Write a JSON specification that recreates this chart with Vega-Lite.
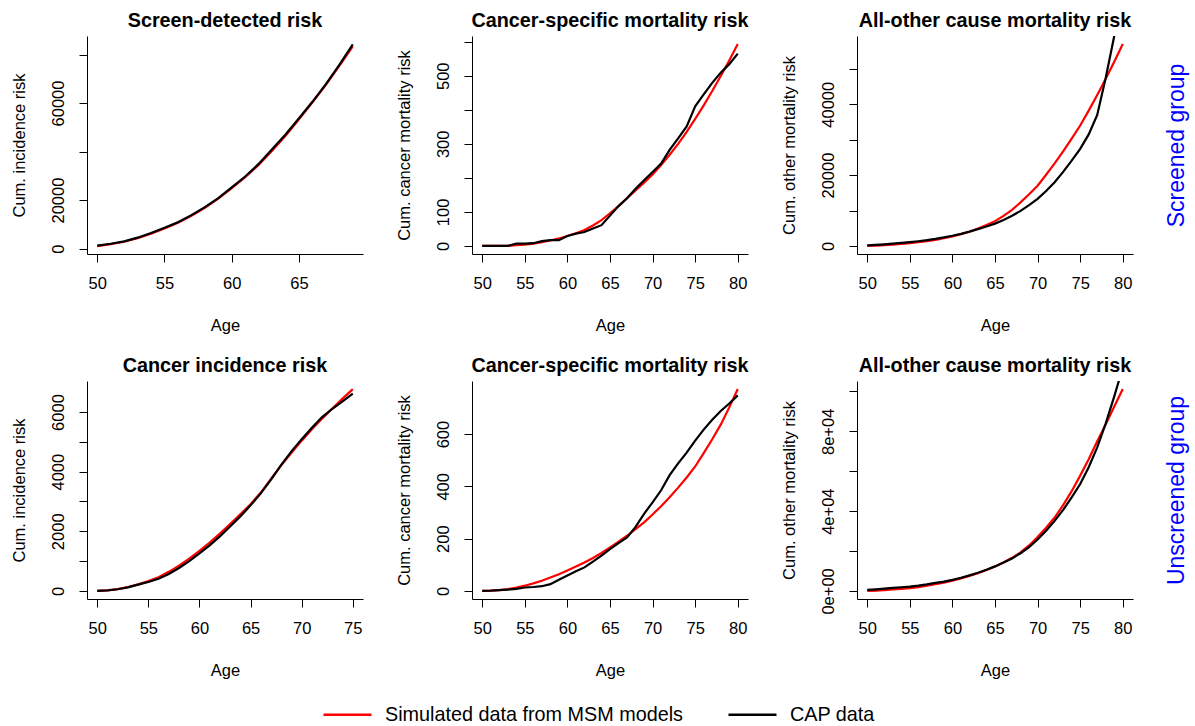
{
"$schema": "https://vega.github.io/schema/vega-lite/v6.json",
"padding": {"left": 10, "top": 11, "right": 5, "bottom": 5},
"background": "white",
"config": {
  "view": {"stroke": null},
  "font": "Liberation Sans",
  "axis": {"grid": false, "domainColor": "#000000", "tickColor": "#000000", "labelColor": "#000000", "titleColor": "#000000", "labelFont": "Liberation Sans", "titleFont": "Liberation Sans", "labelFontSize": 16.5, "titleFontSize": 16.5, "titleFontWeight": "normal", "tickSize": 8, "domainWidth": 1, "tickWidth": 1},
  "axisX": {"labelPadding": 13, "titlePadding": 26},
  "axisY": {"labelAngle": 270, "labelAlign": "center", "labelBaseline": "bottom", "labelPadding": 13, "titleAngle": 270, "titleBaseline": "bottom", "titlePadding": 23},
  "title": {"font": "Liberation Sans", "fontSize": 19.8, "fontWeight": "bold", "color": "#000000", "anchor": "middle", "frame": "group", "baseline": "alphabetic", "offset": 5},
  "legend": {"labelLimit": 1000}
},
"data": {"values": [
{"p":1,"age":50,"sim":1000,"cap":1250},{"p":1,"age":51,"sim":1800,"cap":2000},{"p":1,"age":52,"sim":2800,"cap":3000},{"p":1,"age":53,"sim":4300,"cap":4500},{"p":1,"age":54,"sim":6100,"cap":6400},{"p":1,"age":55,"sim":8300,"cap":8600},{"p":1,"age":56,"sim":10700,"cap":10900},{"p":1,"age":57,"sim":13500,"cap":13800},{"p":1,"age":58,"sim":16800,"cap":17100},{"p":1,"age":59,"sim":20600,"cap":20800},{"p":1,"age":60,"sim":24900,"cap":25200},{"p":1,"age":61,"sim":29400,"cap":29700},{"p":1,"age":62,"sim":34500,"cap":34900},{"p":1,"age":63,"sim":40300,"cap":40900},{"p":1,"age":64,"sim":46500,"cap":47000},{"p":1,"age":65,"sim":53300,"cap":53700},{"p":1,"age":66,"sim":60300,"cap":60500},{"p":1,"age":67,"sim":67500,"cap":67800},{"p":1,"age":68,"sim":75300,"cap":75700},{"p":1,"age":69,"sim":83400,"cap":84200},
{"p":2,"age":50,"sim":0,"cap":0},{"p":2,"age":51,"sim":0,"cap":0},{"p":2,"age":52,"sim":0,"cap":0},{"p":2,"age":53,"sim":0,"cap":0},{"p":2,"age":54,"sim":2,"cap":7},{"p":2,"age":55,"sim":4,"cap":7},{"p":2,"age":56,"sim":7,"cap":8},{"p":2,"age":57,"sim":11,"cap":14},{"p":2,"age":58,"sim":16,"cap":17},{"p":2,"age":59,"sim":22,"cap":17},{"p":2,"age":60,"sim":29,"cap":29},{"p":2,"age":61,"sim":37,"cap":36},{"p":2,"age":62,"sim":47,"cap":41},{"p":2,"age":63,"sim":60,"cap":51},{"p":2,"age":64,"sim":76,"cap":61},{"p":2,"age":65,"sim":96,"cap":89},{"p":2,"age":66,"sim":117,"cap":117},{"p":2,"age":67,"sim":140,"cap":140},{"p":2,"age":68,"sim":163,"cap":168},{"p":2,"age":69,"sim":186,"cap":193},{"p":2,"age":70,"sim":210,"cap":217},{"p":2,"age":71,"sim":238,"cap":242},{"p":2,"age":72,"sim":268,"cap":282},{"p":2,"age":73,"sim":300,"cap":316},{"p":2,"age":74,"sim":335,"cap":351},{"p":2,"age":75,"sim":373,"cap":410},{"p":2,"age":76,"sim":413,"cap":445},{"p":2,"age":77,"sim":455,"cap":479},{"p":2,"age":78,"sim":499,"cap":509},{"p":2,"age":79,"sim":545,"cap":534},{"p":2,"age":80,"sim":593,"cap":565},
{"p":3,"age":50,"sim":0,"cap":150},{"p":3,"age":51,"sim":80,"cap":300},{"p":3,"age":52,"sim":200,"cap":460},{"p":3,"age":53,"sim":350,"cap":640},{"p":3,"age":54,"sim":540,"cap":840},{"p":3,"age":55,"sim":770,"cap":1060},{"p":3,"age":56,"sim":1040,"cap":1320},{"p":3,"age":57,"sim":1360,"cap":1620},{"p":3,"age":58,"sim":1730,"cap":1980},{"p":3,"age":59,"sim":2180,"cap":2400},{"p":3,"age":60,"sim":2700,"cap":2880},{"p":3,"age":61,"sim":3300,"cap":3420},{"p":3,"age":62,"sim":4000,"cap":4050},{"p":3,"age":63,"sim":4900,"cap":4750},{"p":3,"age":64,"sim":5900,"cap":5500},{"p":3,"age":65,"sim":7000,"cap":6300},{"p":3,"age":66,"sim":8500,"cap":7300},{"p":3,"age":67,"sim":10200,"cap":8500},{"p":3,"age":68,"sim":12300,"cap":9900},{"p":3,"age":69,"sim":14600,"cap":11500},{"p":3,"age":70,"sim":17000,"cap":13300},{"p":3,"age":71,"sim":20100,"cap":15500},{"p":3,"age":72,"sim":23300,"cap":18000},{"p":3,"age":73,"sim":26700,"cap":20900},{"p":3,"age":74,"sim":30300,"cap":24100},{"p":3,"age":75,"sim":34000,"cap":27400},{"p":3,"age":76,"sim":38200,"cap":31500},{"p":3,"age":77,"sim":42600,"cap":37000},{"p":3,"age":78,"sim":47200,"cap":47500},{"p":3,"age":79,"sim":52000,"cap":59300},{"p":3,"age":80,"sim":57000,"cap":73000},
{"p":4,"age":50,"sim":0,"cap":0},{"p":4,"age":51,"sim":20,"cap":20},{"p":4,"age":52,"sim":60,"cap":55},{"p":4,"age":53,"sim":130,"cap":120},{"p":4,"age":54,"sim":220,"cap":210},{"p":4,"age":55,"sim":330,"cap":300},{"p":4,"age":56,"sim":460,"cap":410},{"p":4,"age":57,"sim":640,"cap":570},{"p":4,"age":58,"sim":850,"cap":770},{"p":4,"age":59,"sim":1080,"cap":1000},{"p":4,"age":60,"sim":1340,"cap":1260},{"p":4,"age":61,"sim":1620,"cap":1530},{"p":4,"age":62,"sim":1920,"cap":1830},{"p":4,"age":63,"sim":2240,"cap":2160},{"p":4,"age":64,"sim":2570,"cap":2500},{"p":4,"age":65,"sim":2910,"cap":2870},{"p":4,"age":66,"sim":3300,"cap":3270},{"p":4,"age":67,"sim":3760,"cap":3730},{"p":4,"age":68,"sim":4210,"cap":4230},{"p":4,"age":69,"sim":4630,"cap":4680},{"p":4,"age":70,"sim":5040,"cap":5090},{"p":4,"age":71,"sim":5420,"cap":5470},{"p":4,"age":72,"sim":5780,"cap":5830},{"p":4,"age":73,"sim":6120,"cap":6110},{"p":4,"age":74,"sim":6450,"cap":6360},{"p":4,"age":75,"sim":6770,"cap":6615},
{"p":5,"age":50,"sim":0,"cap":0},{"p":5,"age":51,"sim":1,"cap":1},{"p":5,"age":52,"sim":3,"cap":3},{"p":5,"age":53,"sim":7,"cap":5},{"p":5,"age":54,"sim":13,"cap":8},{"p":5,"age":55,"sim":20,"cap":13},{"p":5,"age":56,"sim":29,"cap":15},{"p":5,"age":57,"sim":39,"cap":18},{"p":5,"age":58,"sim":51,"cap":26},{"p":5,"age":59,"sim":64,"cap":43},{"p":5,"age":60,"sim":78,"cap":59},{"p":5,"age":61,"sim":93,"cap":75},{"p":5,"age":62,"sim":109,"cap":90},{"p":5,"age":63,"sim":126,"cap":112},{"p":5,"age":64,"sim":145,"cap":135},{"p":5,"age":65,"sim":166,"cap":160},{"p":5,"age":66,"sim":188,"cap":183},{"p":5,"age":67,"sim":211,"cap":205},{"p":5,"age":68,"sim":236,"cap":245},{"p":5,"age":69,"sim":262,"cap":295},{"p":5,"age":70,"sim":292,"cap":339},{"p":5,"age":71,"sim":324,"cap":385},{"p":5,"age":72,"sim":358,"cap":443},{"p":5,"age":73,"sim":395,"cap":488},{"p":5,"age":74,"sim":434,"cap":529},{"p":5,"age":75,"sim":476,"cap":575},{"p":5,"age":76,"sim":527,"cap":617},{"p":5,"age":77,"sim":580,"cap":655},{"p":5,"age":78,"sim":636,"cap":688},{"p":5,"age":79,"sim":702,"cap":717},{"p":5,"age":80,"sim":772,"cap":748},
{"p":6,"age":50,"sim":0,"cap":500},{"p":6,"age":51,"sim":200,"cap":800},{"p":6,"age":52,"sim":450,"cap":1150},{"p":6,"age":53,"sim":750,"cap":1500},{"p":6,"age":54,"sim":1050,"cap":1850},{"p":6,"age":55,"sim":1400,"cap":2200},{"p":6,"age":56,"sim":1900,"cap":2700},{"p":6,"age":57,"sim":2600,"cap":3300},{"p":6,"age":58,"sim":3400,"cap":4000},{"p":6,"age":59,"sim":4200,"cap":4700},{"p":6,"age":60,"sim":5100,"cap":5560},{"p":6,"age":61,"sim":6200,"cap":6600},{"p":6,"age":62,"sim":7500,"cap":7800},{"p":6,"age":63,"sim":8900,"cap":9100},{"p":6,"age":64,"sim":10500,"cap":10600},{"p":6,"age":65,"sim":12300,"cap":12300},{"p":6,"age":66,"sim":14300,"cap":14200},{"p":6,"age":67,"sim":16600,"cap":16300},{"p":6,"age":68,"sim":19300,"cap":18900},{"p":6,"age":69,"sim":22800,"cap":22000},{"p":6,"age":70,"sim":27000,"cap":25800},{"p":6,"age":71,"sim":31700,"cap":30200},{"p":6,"age":72,"sim":36800,"cap":35100},{"p":6,"age":73,"sim":43000,"cap":40600},{"p":6,"age":74,"sim":50000,"cap":46900},{"p":6,"age":75,"sim":57800,"cap":53600},{"p":6,"age":76,"sim":66000,"cap":62000},{"p":6,"age":77,"sim":75000,"cap":72000},{"p":6,"age":78,"sim":83500,"cap":84000},{"p":6,"age":79,"sim":92500,"cap":97500},{"p":6,"age":80,"sim":101200,"cap":112000}
]},
"columns": 3,
"bounds": "flush",
"spacing": {"row": 127, "column": 109},
"concat": [
{
 "width": 276, "height": 218,
 "title": {"text": "Screen-detected risk"},
 "transform": [{"filter": "datum.p == 1"}, {"fold": ["sim", "cap"], "as": ["s", "v"]}],
 "mark": {"type": "line", "clip": true, "strokeWidth": 2.2},
 "encoding": {
  "x": {"field": "age", "type": "quantitative", "scale": {"domain": [49.24, 69.76], "nice": false, "zero": false}, "axis": {"values": [50, 55, 60, 65], "title": "Age"}},
  "y": {"field": "v", "type": "quantitative", "scale": {"domain": [-2230, 87630], "nice": false, "zero": false}, "axis": {"values": [0, 20000, 40000, 60000, 80000], "format": "d", "labelExpr": "datum.value == 40000 || datum.value == 80000 ? '' : datum.label", "title": "Cum. incidence risk"}},
  "color": {"field": "s", "type": "nominal", "scale": {"domain": ["sim", "cap"], "range": ["#FF0000", "#000000"]}, "legend": {"orient": "none", "legendX": 235, "legendY": 653, "direction": "horizontal", "title": null, "symbolType": "stroke", "symbolSize": 2304, "symbolStrokeWidth": 2.5, "labelFontSize": 19.8, "labelFont": "Liberation Sans", "labelColor": "#000000", "labelOffset": 12, "columnPadding": 40, "padding": 0, "labelLimit": 1000, "labelExpr": "datum.value == 'sim' ? 'Simulated data from MSM models' : 'CAP data'"}}
 }
},
{
 "width": 276, "height": 218,
 "title": {"text": "Cancer-specific mortality risk"},
 "transform": [{"filter": "datum.p == 2"}, {"fold": ["sim", "cap"], "as": ["s", "v"]}],
 "mark": {"type": "line", "clip": true, "strokeWidth": 2.2},
 "encoding": {
  "x": {"field": "age", "type": "quantitative", "scale": {"domain": [48.8, 81.2], "nice": false, "zero": false}, "axis": {"values": [50, 55, 60, 65, 70, 75, 80], "title": "Age"}},
  "y": {"field": "v", "type": "quantitative", "scale": {"domain": [-23.7, 616.7], "nice": false, "zero": false}, "axis": {"values": [0, 100, 200, 300, 400, 500, 600], "format": "d", "labelExpr": "datum.value == 200 || datum.value == 400 || datum.value == 600 ? '' : datum.label", "title": "Cum. cancer mortality risk"}},
  "color": {"field": "s", "type": "nominal", "scale": {"domain": ["sim", "cap"], "range": ["#FF0000", "#000000"]}, "legend": {"orient": "none", "legendX": 235, "legendY": 653, "direction": "horizontal", "title": null, "symbolType": "stroke", "symbolSize": 2304, "symbolStrokeWidth": 2.5, "labelFontSize": 19.8, "labelFont": "Liberation Sans", "labelColor": "#000000", "labelOffset": 12, "columnPadding": 40, "padding": 0, "labelLimit": 1000, "labelExpr": "datum.value == 'sim' ? 'Simulated data from MSM models' : 'CAP data'"}}
 }
},
{
 "width": 276, "height": 218,
 "title": {"text": "All-other cause mortality risk"},
 "transform": [{"filter": "datum.p == 3"}, {"fold": ["sim", "cap"], "as": ["s", "v"]}],
 "layer": [
  {
   "mark": {"type": "line", "clip": true, "strokeWidth": 2.2},
   "encoding": {
    "x": {"field": "age", "type": "quantitative", "scale": {"domain": [48.8, 81.2], "nice": false, "zero": false}, "axis": {"values": [50, 55, 60, 65, 70, 75, 80], "title": "Age"}},
    "y": {"field": "v", "type": "quantitative", "scale": {"domain": [-2280, 59280], "nice": false, "zero": false}, "axis": {"values": [0, 10000, 20000, 30000, 40000, 50000], "format": "d", "labelExpr": "datum.value == 10000 || datum.value == 30000 || datum.value == 50000 ? '' : datum.label", "title": "Cum. other mortality risk"}},
    "color": {"field": "s", "type": "nominal", "scale": {"domain": ["sim", "cap"], "range": ["#FF0000", "#000000"]}, "legend": {"orient": "none", "legendX": 235, "legendY": 653, "direction": "horizontal", "title": null, "symbolType": "stroke", "symbolSize": 2304, "symbolStrokeWidth": 2.5, "labelFontSize": 19.8, "labelFont": "Liberation Sans", "labelColor": "#000000", "labelOffset": 12, "columnPadding": 40, "padding": 0, "labelLimit": 1000, "labelExpr": "datum.value == 'sim' ? 'Simulated data from MSM models' : 'CAP data'"}}
   }
  },
  {
   "mark": {"type": "rule", "opacity": 0},
   "encoding": {
    "y": {"field": "v", "type": "quantitative", "axis": {"orient": "right", "domain": false, "ticks": false, "labels": false, "title": "Screened group", "titleColor": "#0000FF", "titleFontSize": 23, "titleAngle": 270, "titleBaseline": "top", "titlePadding": 32}}
   }
  }
 ],
 "resolve": {"scale": {"y": "independent"}}
},
{
 "width": 276, "height": 218,
 "title": {"text": "Cancer incidence risk"},
 "transform": [{"filter": "datum.p == 4"}, {"fold": ["sim", "cap"], "as": ["s", "v"]}],
 "mark": {"type": "line", "clip": true, "strokeWidth": 2.2},
 "encoding": {
  "x": {"field": "age", "type": "quantitative", "scale": {"domain": [49, 76], "nice": false, "zero": false}, "axis": {"values": [50, 55, 60, 65, 70, 75], "title": "Age"}},
  "y": {"field": "v", "type": "quantitative", "scale": {"domain": [-271, 7041], "nice": false, "zero": false}, "axis": {"values": [0, 1000, 2000, 3000, 4000, 5000, 6000], "format": "d", "labelExpr": "datum.value == 1000 || datum.value == 3000 || datum.value == 5000 ? '' : datum.label", "title": "Cum. incidence risk"}},
  "color": {"field": "s", "type": "nominal", "scale": {"domain": ["sim", "cap"], "range": ["#FF0000", "#000000"]}, "legend": {"orient": "none", "legendX": 235, "legendY": 653, "direction": "horizontal", "title": null, "symbolType": "stroke", "symbolSize": 2304, "symbolStrokeWidth": 2.5, "labelFontSize": 19.8, "labelFont": "Liberation Sans", "labelColor": "#000000", "labelOffset": 12, "columnPadding": 40, "padding": 0, "labelLimit": 1000, "labelExpr": "datum.value == 'sim' ? 'Simulated data from MSM models' : 'CAP data'"}}
 }
},
{
 "width": 276, "height": 218,
 "title": {"text": "Cancer-specific mortality risk"},
 "transform": [{"filter": "datum.p == 5"}, {"fold": ["sim", "cap"], "as": ["s", "v"]}],
 "mark": {"type": "line", "clip": true, "strokeWidth": 2.2},
 "encoding": {
  "x": {"field": "age", "type": "quantitative", "scale": {"domain": [48.8, 81.2], "nice": false, "zero": false}, "axis": {"values": [50, 55, 60, 65, 70, 75, 80], "title": "Age"}},
  "y": {"field": "v", "type": "quantitative", "scale": {"domain": [-30.9, 802.9], "nice": false, "zero": false}, "axis": {"values": [0, 200, 400, 600], "format": "d", "title": "Cum. cancer mortality risk"}},
  "color": {"field": "s", "type": "nominal", "scale": {"domain": ["sim", "cap"], "range": ["#FF0000", "#000000"]}, "legend": {"orient": "none", "legendX": 235, "legendY": 653, "direction": "horizontal", "title": null, "symbolType": "stroke", "symbolSize": 2304, "symbolStrokeWidth": 2.5, "labelFontSize": 19.8, "labelFont": "Liberation Sans", "labelColor": "#000000", "labelOffset": 12, "columnPadding": 40, "padding": 0, "labelLimit": 1000, "labelExpr": "datum.value == 'sim' ? 'Simulated data from MSM models' : 'CAP data'"}}
 }
},
{
 "width": 276, "height": 218,
 "title": {"text": "All-other cause mortality risk"},
 "transform": [{"filter": "datum.p == 6"}, {"fold": ["sim", "cap"], "as": ["s", "v"]}],
 "layer": [
  {
   "mark": {"type": "line", "clip": true, "strokeWidth": 2.2},
   "encoding": {
    "x": {"field": "age", "type": "quantitative", "scale": {"domain": [48.8, 81.2], "nice": false, "zero": false}, "axis": {"values": [50, 55, 60, 65, 70, 75, 80], "title": "Age"}},
    "y": {"field": "v", "type": "quantitative", "scale": {"domain": [-4048, 105248], "nice": false, "zero": false}, "axis": {"values": [0, 20000, 40000, 60000, 80000, 100000], "labelExpr": "datum.value == 0 ? '0e+00' : datum.value == 40000 ? '4e+04' : datum.value == 80000 ? '8e+04' : ''", "title": "Cum. other mortality risk"}},
    "color": {"field": "s", "type": "nominal", "scale": {"domain": ["sim", "cap"], "range": ["#FF0000", "#000000"]}, "legend": {"orient": "none", "legendX": 235, "legendY": 653, "direction": "horizontal", "title": null, "symbolType": "stroke", "symbolSize": 2304, "symbolStrokeWidth": 2.5, "labelFontSize": 19.8, "labelFont": "Liberation Sans", "labelColor": "#000000", "labelOffset": 12, "columnPadding": 40, "padding": 0, "labelLimit": 1000, "labelExpr": "datum.value == 'sim' ? 'Simulated data from MSM models' : 'CAP data'"}}
   }
  },
  {
   "mark": {"type": "rule", "opacity": 0},
   "encoding": {
    "y": {"field": "v", "type": "quantitative", "axis": {"orient": "right", "domain": false, "ticks": false, "labels": false, "title": "Unscreened group", "titleColor": "#0000FF", "titleFontSize": 23, "titleAngle": 270, "titleBaseline": "top", "titlePadding": 32}}
   }
  }
 ],
 "resolve": {"scale": {"y": "independent"}}
}
]
}
